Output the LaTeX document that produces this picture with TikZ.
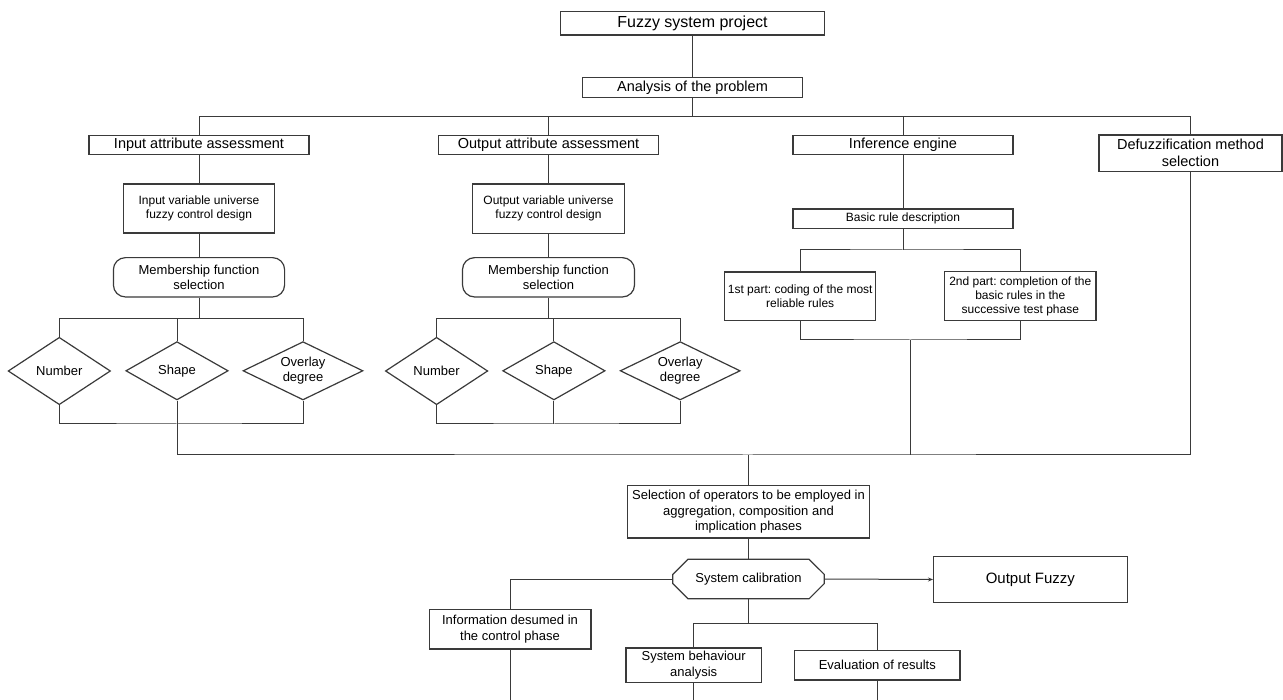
\documentclass[tikz,border=0pt]{standalone}
\usepackage{fontspec}
\setmainfont{Liberation Sans}
\usetikzlibrary{shapes.geometric,shapes.misc,arrows.meta}
\definecolor{lc}{HTML}{3A3A3A}
\newcommand\fsz[2]{\fontsize{#1}{#2}\selectfont}
\frenchspacing
\begin{document}
\begin{tikzpicture}[x=1pt,y=-1pt,
  line width=1pt, draw=lc,
  box/.style={draw=lc, line width=1.2pt, fill=white, inner sep=1pt, align=center, anchor=center},
  big/.style={font=\fsz{14.5}{16.8}},
  mid/.style={font=\fsz{13}{15.5}},
  sml/.style={font=\fsz{12}{14}},
  rbox/.style={box, rounded corners=12pt},
  dia/.style={box, diamond, shape aspect=2, inner sep=0pt},
  oct/.style={box, chamfered rectangle, chamfered rectangle xsep=15pt, chamfered rectangle ysep=9pt, inner sep=0pt}
]
\useasboundingbox (0,0) rectangle (1283,700);

% nodes
\node[box,font=\fsz{16}{18},minimum width=264pt,minimum height=23.3pt] (fsp) at (692.5,23.3) {Fuzzy system project};
\node[box,big,minimum width=220pt,minimum height=19.6pt] (ana) at (692.5,87.5) {Analysis of the problem};
\node[box,big,minimum width=220pt,minimum height=19.7pt] (inattr) at (199,145) {Input attribute assessment};
\node[box,big,minimum width=220.7pt,minimum height=19.7pt] (outattr) at (548.5,145) {Output attribute assessment};
\node[box,big,minimum width=220pt,minimum height=19.7pt] (infer) at (903,145) {Inference engine};
\node[box,big,minimum width=183pt,minimum height=36.3pt] (defuzz) at (1190.5,153.2) {Defuzzification method\\selection};

\node[box,sml,minimum width=151.4pt,minimum height=49pt] (invar) at (199,208.5) {Input variable universe\\fuzzy control design};
\node[box,sml,minimum width=151.4pt,minimum height=49.7pt] (outvar) at (548.5,208.8) {Output variable universe\\fuzzy control design};
\node[rbox,mid,minimum width=171.2pt,minimum height=39.3pt] (inmem) at (199,277.3) {Membership function\\selection};
\node[rbox,mid,minimum width=172pt,minimum height=39.3pt] (outmem) at (548.5,277.3) {Membership function\\selection};

\node[dia,mid,minimum width=102.4pt,minimum height=67.4pt] (innum) at (59.3,371) {Number};
\node[dia,mid,minimum width=102.4pt,minimum height=58.3pt] (inshape) at (177,370.8) {Shape};
\node[dia,mid,minimum width=120pt,minimum height=58.3pt] (inov) at (303,370.8) {Overlay\\degree};
\node[dia,mid,minimum width=102.4pt,minimum height=67.4pt] (onum) at (436.6,371) {Number};
\node[dia,mid,minimum width=102.4pt,minimum height=58.3pt] (oshape) at (553.9,370.8) {Shape};
\node[dia,mid,minimum width=120pt,minimum height=58.3pt] (oov) at (680.2,370.8) {Overlay\\degree};

\node[box,sml,minimum width=220pt,minimum height=19.7pt] (basic) at (903,218.8) {Basic rule description};
\node[box,sml,minimum width=151.3pt,minimum height=48.7pt] (p1) at (800.2,296.3) {1st part: coding of the most\\reliable rules};
\node[box,sml,minimum width=151.3pt,minimum height=49pt] (p2) at (1020.3,296.2) {2nd part: completion of the\\basic rules in the\\successive test phase};

\node[box,mid,minimum width=242pt,minimum height=52.3pt] (sel) at (748.5,511.8) {Selection of operators to be employed in\\aggregation, composition and\\implication phases};
\node[oct,mid,minimum width=151.4pt,minimum height=39.4pt] (cal) at (748.5,579) {System calibration};
\node[box,font=\fsz{15}{17},minimum width=193.6pt,minimum height=45.6pt] (ofz) at (1030.4,579.5) {Output Fuzzy};
\node[box,mid,minimum width=161.8pt,minimum height=39.7pt] (info) at (510,629.2) {Information desumed in\\the control phase};
\node[box,mid,minimum width=135.4pt,minimum height=34.7pt] (sba) at (693.7,665.3) {System behaviour\\analysis};
\node[box,mid,minimum width=165.3pt,minimum height=29.3pt] (eval) at (877.3,665.3) {Evaluation of results};

% bus coordinates
\coordinate (b1) at (692.5,116.3);
\coordinate (ib1) at (199,318.5);
\coordinate (ib2) at (177,424);
\coordinate (ob1) at (548.5,318.5);
\coordinate (ob2) at (553.9,424);
\coordinate (rb1) at (903,250);
\coordinate (rb2) at (910.2,340);
\coordinate (mb) at (748.5,455);
\coordinate (cb) at (748.5,623.3);
\coordinate (e1) at (510,700);

% connectors
\draw (fsp.south) -- (ana.north);
\draw (ana.south) -- (b1);
\draw (inattr.north) |- (b1) -| (defuzz.north);
\draw (outattr.north) -- (outattr.north |- b1);
\draw (infer.north) -- (infer.north |- b1);

\draw (inattr.south) -- (invar.north);
\draw (invar.south) -- (inmem.north);
\draw (inmem.south) -- (ib1);
\draw (innum.north) |- (ib1) -| (inov.north);
\draw (inshape.north) -- (inshape.north |- ib1);
\draw (innum.south) |- (ib2) -| (inov.south);
\draw (inshape.south) -- (ib2);

\draw (outattr.south) -- (outvar.north);
\draw (outvar.south) -- (outmem.north);
\draw (outmem.south) -- (ob1);
\draw (onum.north) |- (ob1) -| (oov.north);
\draw (oshape.north) -- (oshape.north |- ob1);
\draw (onum.south) |- (ob2) -| (oov.south);
\draw (oshape.south) -- (ob2);

\draw (infer.south) -- (basic.north);
\draw (basic.south) -- (rb1);
\draw (p1.north) |- (rb1) -| (p2.north);
\draw (p1.south) |- (rb2) -| (p2.south);
\draw (rb2) -- (rb2 |- mb);

\draw (ib2) |- (mb) -| (defuzz.south);
\draw (mb) -- (sel.north);

\draw (sel.south) -- (cal.north);
\draw[-{Stealth[length=5pt,width=4pt]}] (cal.east) -- (ofz.west);
\draw (cal.west) -| (info.north);
\draw (info.south) -- (e1);
\draw (cal.south) -- (cb);
\draw (sba.north) |- (cb) -| (eval.north);
\draw (sba.south) -- (sba.south |- e1);
\draw (eval.south) -- (eval.south |- e1);
\end{tikzpicture}
\end{document}
